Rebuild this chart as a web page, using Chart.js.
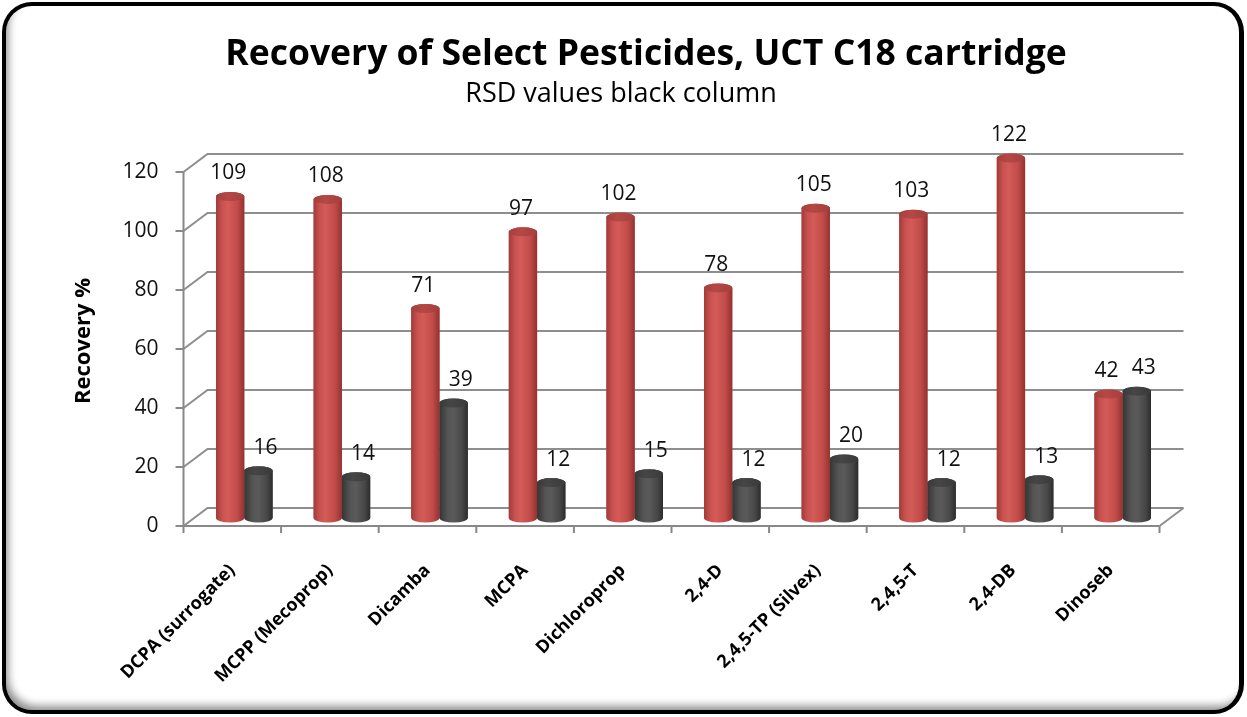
<!DOCTYPE html>
<html><head><meta charset="utf-8">
<script src="https://cdn.jsdelivr.net/npm/chart.js@4"></script>
<style>
html,body{margin:0;padding:0;background:#fff;}
#wrap{position:relative;width:1247px;height:717px;overflow:hidden;background:#fff;}
canvas{position:absolute;left:0;top:0;}
#frame{position:absolute;left:2px;top:2px;width:1242px;height:712px;box-sizing:border-box;border:4px solid #000;border-right-width:5px;border-radius:30px;box-shadow:inset 5px -7px 9px -3px rgba(0,0,0,0.45);pointer-events:none;}
</style></head>
<body><div id="wrap"><canvas id="c" width="1247" height="717"></canvas><div id="frame"></div></div>
<script>
const categories = ['DCPA (surrogate)','MCPP (Mecoprop)','Dicamba','MCPA','Dichloroprop','2,4-D','2,4,5-TP (Silvex)','2,4,5-T','2,4-DB','Dinoseb'];
const recovery = [109,108,71,97,102,78,105,103,122,42];
const rsd = [16,14,39,12,15,12,20,12,13,43];
const yTicks = [0,20,40,60,80,100,120];
const titleText = 'Recovery of Select Pesticides, UCT C18 cartridge';
const subtitleText = 'RSD values black column';
const yTitle = 'Recovery %';

const FX=-12, FY=8, BX=12, BY=-10;

const frame3d = {
  id:'frame3d',
  afterLayout(chart){
    const t = chart.titleBlock;
    if (t){ t.left += 25; t.right += 25; }
  },
  beforeDatasetsDraw(chart){
    const ctx=chart.ctx, ys=chart.scales.y, xs=chart.scales.x;
    const L=chart.chartArea.left, R=chart.chartArea.right;
    const y0=ys.getPixelForValue(0), yTop=ys.getPixelForValue(yTicks[yTicks.length-1]);
    ctx.save();
    ctx.strokeStyle='#8e8e8e'; ctx.lineWidth=2; ctx.lineCap='butt';
    yTicks.forEach(v=>{
      const y=ys.getPixelForValue(v);
      ctx.beginPath(); ctx.moveTo(L+FX,y+FY); ctx.lineTo(L+BX,y+BY); ctx.lineTo(R+BX,y+BY); ctx.stroke();
    });
    ctx.beginPath(); ctx.moveTo(R+BX,y0+BY); ctx.lineTo(R+FX,y0+FY); ctx.stroke();
    ctx.strokeStyle='#888'; ctx.lineWidth=2;
    ctx.beginPath(); ctx.moveTo(L+FX,yTop+FY); ctx.lineTo(L+FX,y0+FY); ctx.lineTo(R+FX,y0+FY); ctx.stroke();
    yTicks.forEach(v=>{
      const y=ys.getPixelForValue(v)+FY;
      ctx.beginPath(); ctx.moveTo(L+FX-8,y); ctx.lineTo(L+FX,y); ctx.stroke();
    });
    const w = xs.getPixelForValue(1)-xs.getPixelForValue(0);
    for(let i=0;i<=categories.length;i++){
      const x = xs.getPixelForValue(0) - w/2 + w*i + FX;
      ctx.beginPath(); ctx.moveTo(x,y0+FY); ctx.lineTo(x,y0+FY+7); ctx.stroke();
    }
    ctx.restore();
  }
};

const palettes = [
  {stops:[[0,'#a13b39'],[0.22,'#c95250'],[0.42,'#d35b58'],[0.75,'#c24c49'],[1,'#933230']], cap:'#a63f3d', capHi:'#b44845'},
  {stops:[[0,'#353535'],[0.3,'#555555'],[0.5,'#5a5a5a'],[0.8,'#474747'],[1,'#2c2c2c']], cap:'#3a3a3a', capHi:'#464646'}
];
const labelDX = [-2, 7];

const cylinders = {
  id:'cylinders',
  afterDatasetsDraw(chart){
    const ctx=chart.ctx;
    chart.data.datasets.forEach((ds,di)=>{
      const meta=chart.getDatasetMeta(di);
      const pal=palettes[di];
      meta.data.forEach((el,i)=>{
        const {x,y,base,width}=el.getProps(['x','y','base','width'],true);
        const l=x-width/2, r=x+width/2, rx=width/2, ry=4.5;
        ctx.save();
        const g=ctx.createLinearGradient(l,0,r,0);
        pal.stops.forEach(s=>g.addColorStop(s[0],s[1]));
        ctx.beginPath();
        ctx.moveTo(l,y); ctx.lineTo(l,base);
        ctx.ellipse(x,base,rx,ry,0,Math.PI,0,true);
        ctx.lineTo(r,y);
        ctx.ellipse(x,y,rx,ry,0,0,Math.PI,true);
        ctx.closePath();
        ctx.fillStyle=g; ctx.fill();
        ctx.beginPath(); ctx.ellipse(x,y,rx,ry,0,0,Math.PI*2);
        const cg=ctx.createLinearGradient(l,0,r,0);
        cg.addColorStop(0,pal.cap); cg.addColorStop(0.4,pal.capHi); cg.addColorStop(1,pal.cap);
        ctx.fillStyle=cg; ctx.fill();
        ctx.font='21px "Open Sans"'; ctx.fillStyle='#111'; ctx.textAlign='center'; ctx.textBaseline='middle';
        ctx.fillText(String(ds.data[i]), x+labelDX[di], y-23);
        ctx.restore();
      });
    });
  }
};

new Chart(document.getElementById('c'), {
  type:'bar',
  data:{
    labels:categories,
    datasets:[
      {label:'Recovery', data:recovery, backgroundColor:'#c8504d', borderWidth:0, clip:false},
      {label:'RSD', data:rsd, backgroundColor:'#4d4d4d', borderWidth:0, clip:false}
    ]
  },
  options:{
    responsive:false, animation:false, devicePixelRatio:1,
    layout:{padding:{left:70.5,right:75.5,top:0,bottom:0}},
    datasets:{bar:{categoryPercentage:0.58, barPercentage:1.0}},
    plugins:{
      legend:{display:false}, tooltip:{enabled:false},
      title:{display:true, text:titleText, color:'#000', font:{family:"'Open Sans', sans-serif", weight:'bold', size:35.5}, padding:{top:34,bottom:2}},
      subtitle:{display:true, text:subtitleText, color:'#000', font:{family:"'Open Sans'", size:27}, padding:{top:0,bottom:53}}
    },
    scales:{
      x:{
        type:'category', offset:true,
        grid:{display:false, drawTicks:false}, border:{display:false},
        ticks:{minRotation:45, maxRotation:45, autoSkip:false, padding:42, labelOffset:-12, color:'#000', font:{family:"'Open Sans'", weight:'bold', size:18}},
        afterFit(s){ s.height=199; }
      },
      y:{
        min:0, max:120,
        afterBuildTicks(s){ s.ticks = yTicks.map(v=>({value:v})); },
        grid:{display:false, drawTicks:false}, border:{display:false},
        ticks:{padding:37, labelOffset:8, color:'#111', font:{family:"'Open Sans'", size:21}},
        title:{display:true, text:yTitle, color:'#000', font:{family:"'Open Sans'", weight:'bold', size:22}, padding:0},
        afterFit(s){ s.width=125; }
      }
    }
  },
  plugins:[frame3d, cylinders]
});
</script>
</body></html>
